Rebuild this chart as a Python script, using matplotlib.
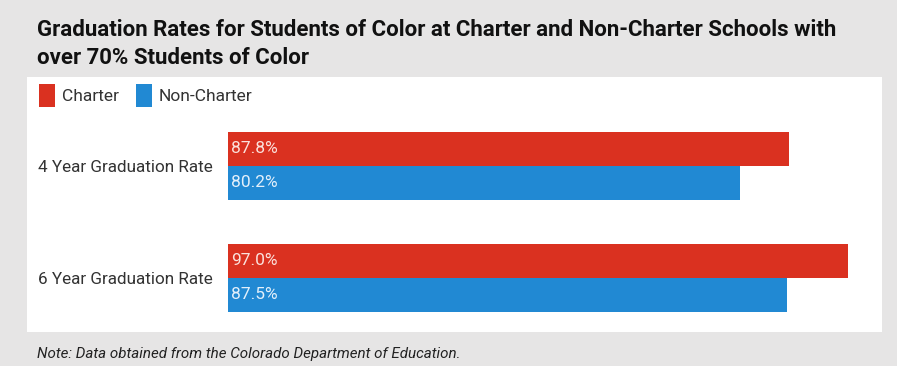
import matplotlib
matplotlib.use("Agg")
import matplotlib.pyplot as plt
from matplotlib.patches import Patch, Rectangle

categories = ["4 Year Graduation Rate", "6 Year Graduation Rate"]
charter = [87.8, 97.0]
non_charter = [80.2, 87.5]
series_names = ["Charter", "Non-Charter"]

red = "#da3120"
blue = "#2189d3"
bg = "#e6e5e5"

plt.rcParams["font.family"] = ["Roboto", "DejaVu Sans"]

W, H = 897, 366
fig = plt.figure(figsize=(W / 100, H / 100), dpi=100)
fig.patch.set_facecolor(bg)

# white panel behind legend + bars
fig.patches.append(Rectangle((27 / W, 1 - 332 / H), (882 - 27) / W, (332 - 77) / H,
                             transform=fig.transFigure, facecolor="white",
                             edgecolor="none", zorder=-5))

fig.text(37 / W, 1 - 36 / H, "Graduation Rates for Students of Color at Charter and Non-Charter Schools with",
         fontsize=16, fontweight="bold", color="#111111", va="baseline")
fig.text(37 / W, 1 - 64 / H, "over 70% Students of Color",
         fontsize=16, fontweight="bold", color="#111111", va="baseline")

fig.text(37 / W, 1 - 358 / H, "Note: Data obtained from the Colorado Department of Education.",
         fontsize=10.9, style="italic", color="#222222", va="baseline")

ax = fig.add_axes([228 / W, 1 - 332 / H, (882 - 228) / W, (332 - 112) / H], zorder=2)
ax.patch.set_alpha(0)
pos = list(range(len(categories)))
bh = 0.304
ax.barh([p - bh / 2 for p in pos], charter, height=bh, color=red)
ax.barh([p + bh / 2 for p in pos], non_charter, height=bh, color=blue)
ax.set_xlim(0, (882 - 228) / 6.39)
ax.set_ylim(1.487, -0.48)

for p, c, n in zip(pos, charter, non_charter):
    ax.text(0.5, p - bh / 2, f"{c:.1f}%", color="#fbe1dc", fontsize=12.5, va="center", ha="left")
    ax.text(0.5, p + bh / 2, f"{n:.1f}%", color="#e3f0fb", fontsize=12.5, va="center", ha="left")

ax.set_yticks(pos)
ax.set_yticklabels(categories, fontsize=12.3, color="#333333")
ax.tick_params(axis="y", length=0, pad=11)
ax.set_xticks([])
for s in ax.spines.values():
    s.set_visible(False)

handles = [Patch(facecolor=red, label=series_names[0]), Patch(facecolor=blue, label=series_names[1])]
fig.legend(handles=handles, loc="upper left", bbox_to_anchor=(39 / W, 1 - 84 / H), ncol=2,
           frameon=False, fontsize=12.5, handlelength=0.95, handleheight=1.7,
           handletextpad=0.35, columnspacing=1.0, labelcolor="#333333", borderaxespad=0,
           borderpad=0)

fig.savefig("out.png", dpi=100, facecolor=bg)
